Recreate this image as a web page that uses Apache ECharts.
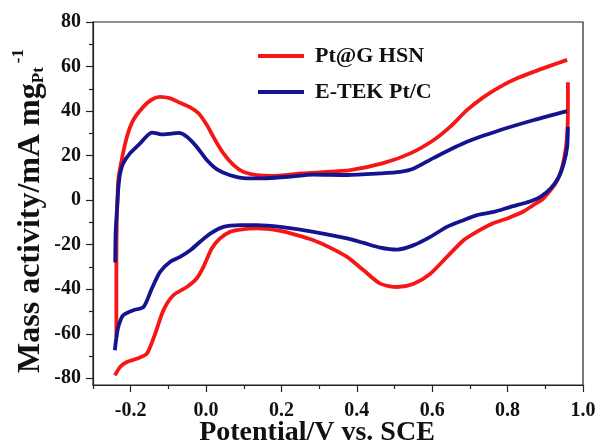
<!DOCTYPE html>
<html>
<head>
<meta charset="utf-8">
<script src="https://cdn.jsdelivr.net/npm/echarts@6/dist/echarts.min.js"></script>
<style>
  html, body { margin: 0; padding: 0; background: #fff; }
  #chart { width: 600px; height: 446px; }
</style>
</head>
<body>
<div id="chart"></div>
<script>
// series names
const names = ['Pt@G HSN', 'E-TEK Pt/C']

// Pt@G HSN, anodic sweep (left to right)
const redUp = [
  [-0.238, -61.5], [-0.238, -30], [-0.237, -9], [-0.235, 0], [-0.233, 9], [-0.224, 18],
  [-0.21, 28.5], [-0.193, 36], [-0.166, 42], [-0.144, 45.2], [-0.122, 46.4], [-0.095, 45.7],
  [-0.069, 43.7], [-0.042, 41.7], [-0.02, 39], [0.002, 33.7], [0.024, 27], [0.046, 21],
  [0.073, 15.7], [0.099, 12.7], [0.135, 11.2], [0.179, 10.9], [0.223, 11.5], [0.25, 12],
  [0.3, 12.5], [0.383, 13.5], [0.47, 16.6], [0.542, 21], [0.604, 27], [0.648, 33],
  [0.692, 40.4], [0.737, 46.4], [0.781, 51], [0.825, 54.7], [0.87, 57.7], [0.914, 60.4], [0.958, 63]
]
// Pt@G HSN, cathodic sweep (right to left)
const redDown = [
  [0.96, 53], [0.96, 42], [0.959, 33], [0.955, 24], [0.945, 15], [0.932, 9], [0.914, 4.5],
  [0.89, 0], [0.87, -2], [0.843, -5], [0.799, -8.2], [0.76, -10.5], [0.71, -15], [0.683, -18],
  [0.639, -25.5], [0.595, -33], [0.551, -37.5], [0.507, -39], [0.462, -37.5], [0.418, -31.5],
  [0.374, -25.5], [0.329, -21.3], [0.285, -18], [0.241, -15.7], [0.197, -13.8], [0.135, -12.7],
  [0.09, -13.2], [0.064, -14.2], [0.037, -17.2], [0.015, -21.7], [-0.007, -30], [-0.025, -35.2],
  [-0.051, -39], [-0.087, -42.7], [-0.113, -49.4], [-0.135, -59.9], [-0.157, -68.9],
  [-0.184, -71.2], [-0.21, -72.7], [-0.228, -74.9], [-0.242, -78.7]
]
// E-TEK Pt/C, anodic sweep
const blueUp = [
  [-0.241, -28], [-0.24, -15], [-0.237, -6], [-0.233, 5], [-0.228, 12], [-0.22, 16.5],
  [-0.202, 21], [-0.175, 25.5], [-0.144, 30.3], [-0.13, 30], [-0.118, 29.5], [-0.095, 29.8],
  [-0.073, 30.2], [-0.051, 28.5], [-0.025, 24], [0.002, 18], [0.029, 13.8], [0.064, 11.2],
  [0.108, 9.8], [0.152, 9.8], [0.223, 10.6], [0.284, 11.5], [0.374, 11.3], [0.462, 12],
  [0.515, 12.7], [0.551, 14.2], [0.604, 19], [0.692, 26.2], [0.781, 31.5], [0.87, 36], [0.958, 40]
]
// E-TEK Pt/C, cathodic sweep
const blueDown = [
  [0.96, 33], [0.958, 24], [0.949, 16.5], [0.936, 10.5], [0.914, 5.2], [0.887, 1.5],
  [0.861, -0.5], [0.808, -3], [0.763, -5.3], [0.719, -6.7], [0.683, -9], [0.639, -12],
  [0.595, -16.5], [0.551, -20.2], [0.507, -22.2], [0.462, -21.3], [0.418, -19.2], [0.374, -17.2],
  [0.285, -14.2], [0.197, -12], [0.135, -11.2], [0.09, -11.2], [0.046, -12], [0.011, -15],
  [-0.016, -18.7], [-0.042, -22.5], [-0.069, -25.5], [-0.095, -27.7], [-0.122, -32.2],
  [-0.144, -39.7], [-0.166, -48], [-0.193, -49.4], [-0.22, -51.7], [-0.233, -57], [-0.239, -63],
  [-0.242, -67.4]
]

// ticks
const xLabels = [-0.2, 0.0, 0.2, 0.4, 0.6, 0.8, 1.0]
const xMinor = [-0.3, -0.1, 0.1, 0.3, 0.5, 0.7, 0.9]
const yLabels = [-80, -60, -40, -20, 0, 20, 40, 60, 80]
const yMinor = [-70, -50, -30, -10, 10, 30, 50, 70]

const colors = ['#f71616', '#14148f']
const font = 'Liberation Serif, Times New Roman, serif'
const axisColor = '#222'

function curve(name, data, color) {
  return {
    name: name,
    type: 'line',
    data: data,
    symbol: 'none',
    smooth: 0.25,
    lineStyle: { width: 3.8, color: color },
    itemStyle: { color: color }
  }
}

const baseX = { type: 'value', min: -0.3, max: 1.0, splitLine: { show: false } }
const baseY = { type: 'value', min: -83, max: 80, splitLine: { show: false } }
const tickStyle = { color: axisColor, width: 1.2 }
const labelFont = { fontFamily: font, fontSize: 20, fontWeight: 'bold', color: '#111' }

const chart = echarts.init(document.getElementById('chart'))
const option = {
  animation: false,
  grid: {
    left: 93, top: 22, right: 17, bottom: 61,
    show: true, borderColor: axisColor, borderWidth: 1.2, backgroundColor: 'transparent'
  },
  legend: {
    data: names,
    orient: 'vertical',
    left: 258, top: 45,
    padding: 0,
    icon: 'rect',
    itemWidth: 46, itemHeight: 4, itemGap: 14,
    textStyle: { fontFamily: font, fontSize: 22, fontWeight: 'bold', color: '#111', lineHeight: 19, padding: [0, 0, 0, 6] }
  },
  xAxis: [
    Object.assign({}, baseX, {
      axisLine: { onZero: false, lineStyle: tickStyle },
      axisTick: { customValues: xLabels, length: 7, lineStyle: tickStyle },
      axisLabel: Object.assign({ customValues: xLabels, margin: 16, formatter: v => v.toFixed(1) }, labelFont)
    }),
    Object.assign({}, baseX, {
      position: 'bottom',
      axisLine: { show: false, onZero: false },
      axisTick: { customValues: xMinor, length: 4, lineStyle: tickStyle },
      axisLabel: { show: false }
    })
  ],
  yAxis: [
    Object.assign({}, baseY, {
      axisLine: { show: true, onZero: false, lineStyle: tickStyle },
      axisTick: { show: true, customValues: yLabels, length: 7, lineStyle: tickStyle },
      axisLabel: Object.assign({ customValues: yLabels, margin: 12 }, labelFont)
    }),
    Object.assign({}, baseY, {
      position: 'left',
      axisLine: { show: false, onZero: false },
      axisTick: { show: true, customValues: yMinor, length: 4, lineStyle: tickStyle },
      axisLabel: { show: false }
    })
  ],
  graphic: [
    {
      type: 'text',
      x: 317, y: 433,
      style: {
        text: 'Potential/V vs. SCE',
        align: 'center', verticalAlign: 'middle',
        font: 'bold 28px ' + font, fill: '#111'
      }
    },
    {
      type: 'text',
      x: 31, y: 211,
      rotation: Math.PI / 2,
      style: {
        text: '{m|Mass activity/mA mg}{s|Pt}{p|-1}',
        align: 'center',
        verticalAlign: 'middle',
        rich: {
          m: { fontFamily: font, fontSize: 32, fontWeight: 'bold', fill: '#111' },
          s: { fontFamily: font, fontSize: 17, fontWeight: 'bold', fill: '#111', padding: [16, 0, 0, 0] },
          p: { fontFamily: font, fontSize: 17, fontWeight: 'bold', fill: '#111', padding: [0, 0, 24, 4] }
        }
      }
    }
  ],
  series: [
    curve(names[0], redUp, colors[0]),
    curve(names[0], redDown, colors[0]),
    curve(names[1], blueUp, colors[1]),
    curve(names[1], blueDown, colors[1])
  ]
}
chart.setOption(option)
window.addEventListener('resize', () => chart.resize())
</script>
</body>
</html>
